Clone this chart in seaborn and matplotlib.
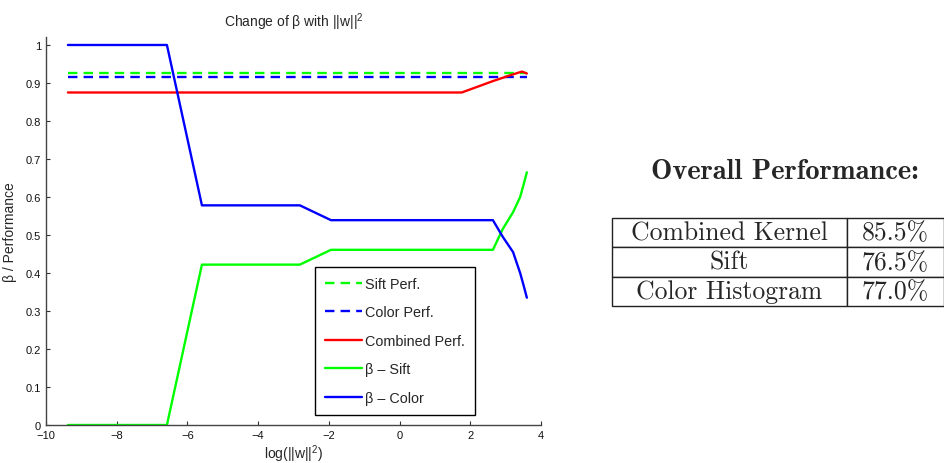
import numpy as np
import pandas as pd
import matplotlib
matplotlib.use("Agg")
import matplotlib.pyplot as plt
import seaborn as sns


# values
beta_x = [-9.38, -6.58, -5.59, -2.82, -1.94, 2.64, 2.92, 3.21, 3.41, 3.5, 3.6]
beta_color = [1.0, 1.0, 0.578, 0.578, 0.539, 0.539, 0.495, 0.455, 0.40, 0.37, 0.335]
beta_sift = [0.0, 0.0, 0.422, 0.422, 0.461, 0.461, 0.516, 0.56, 0.60, 0.63, 0.665]

comb_x = [-9.38, 1.76, 2.64, 3.12, 3.46, 3.6]
comb_perf = [0.875, 0.875, 0.905, 0.92, 0.93, 0.925]

perf_x = [-9.38, 3.6]
sift_perf = [0.925, 0.925]
color_perf = [0.915, 0.915]

methods = ["Combined Kernel", "Sift", "Color Histogram"]
overall = ["85.5%", "76.5%", "77.0%"]

sns.set_theme(style="ticks")
plt.rcParams["font.family"] = ["Liberation Sans", "DejaVu Sans"]
plt.rcParams["mathtext.default"] = "regular"
plt.rcParams["xtick.direction"] = "in"
plt.rcParams["ytick.direction"] = "in"

fig = plt.figure(figsize=(9.45, 4.64), dpi=100)
ax = fig.add_axes([46 / 945, 1 - 426 / 464, 495 / 945, 388 / 464])

lw = 1.7
sns.lineplot(x=perf_x, y=sift_perf, ax=ax, color="#00ff00", lw=lw,
             linestyle=(0, (4, 2.6)), label="Sift Perf.")
sns.lineplot(x=perf_x, y=color_perf, ax=ax, color="#0000ff", lw=lw,
             linestyle=(0, (4, 2.6)), label="Color Perf.")
sns.lineplot(x=comb_x, y=comb_perf, ax=ax, color="#ff0000", lw=lw,
             label="Combined Perf.")
sns.lineplot(x=beta_x, y=beta_sift, ax=ax, color="#00ff00", lw=lw,
             label="β – Sift")
sns.lineplot(x=beta_x, y=beta_color, ax=ax, color="#0000ff", lw=lw,
             label="β – Color")

ax.set_xlim(-10, 4)
ax.set_ylim(0, 1.021)
ax.set_xticks(np.arange(-10, 5, 2))
ax.set_yticks(np.arange(0, 1.01, 0.1))
ax.set_yticklabels(["0", "0.1", "0.2", "0.3", "0.4", "0.5", "0.6", "0.7",
                    "0.8", "0.9", "1"])
ax.tick_params(labelsize=8, length=3, width=0.8, color="#333333",
               labelcolor="#111111")
sns.despine(ax=ax)
for s in ["left", "bottom"]:
    ax.spines[s].set_color("#444444")
    ax.spines[s].set_linewidth(1.0)

ax.set_title("Change of β with ||w||$^2$", fontsize=10, pad=8)
ax.set_xlabel("log(||w||$^2$)", fontsize=10, labelpad=2)
ax.set_ylabel("β / Performance", fontsize=10, labelpad=6)

leg = ax.legend(loc="lower left", bbox_to_anchor=(0.543, 0.026),
                borderaxespad=0, fontsize=10.4, handlelength=2.6,
                labelspacing=1.0, handletextpad=0.2, borderpad=0.7,
                fancybox=False, framealpha=1)
leg.get_frame().set_edgecolor("black")
leg.get_frame().set_linewidth(1.0)

# right hand summary table
fig.text(785 / 945, 1 - 172 / 464, "Overall Performance:", family="cmb10",
         fontsize=20.5, ha="center", va="center")
tax = fig.add_axes([612 / 945, 1 - 307 / 464, 332 / 945, 88 / 464])
tax.axis("off")
tbl = tax.table(cellText=[[m, v] for m, v in zip(methods, overall)],
                cellLoc="center", colWidths=[235, 97], bbox=[0, 0, 1, 1])
tbl.auto_set_font_size(False)
for cell in tbl.get_celld().values():
    cell.set_edgecolor("#222222")
    cell.set_linewidth(1.0)
    cell.get_text().set_fontfamily("cmr10")
    cell.get_text().set_fontsize(18.5)

fig.savefig("out.png", dpi=100)
